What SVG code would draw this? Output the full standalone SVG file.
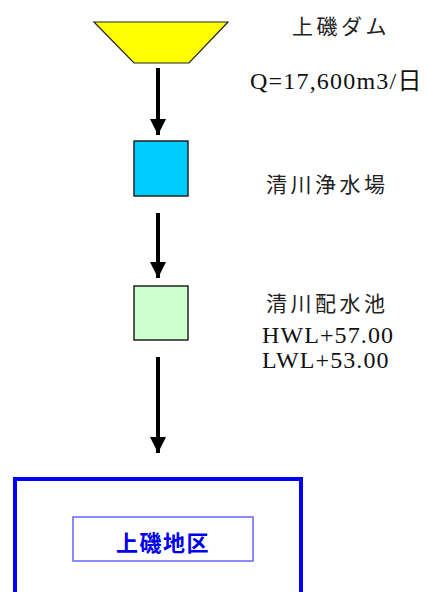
<svg xmlns="http://www.w3.org/2000/svg" width="427" height="592" viewBox="0 0 427 592">
<style>
.lbl{font-family:"Liberation Serif","Noto Sans CJK JP",serif;font-size:21px;fill:#222;}
.num{font-family:"Liberation Serif","Noto Sans CJK JP",serif;font-size:24px;fill:#111;}
.conn{stroke:#000;stroke-width:4;fill:none;marker-end:url(#arr);}
.box{stroke:#222;stroke-width:1.5;}
</style>
<defs>
<marker id="arr" markerUnits="userSpaceOnUse" markerWidth="16" markerHeight="16" refX="16" refY="8" orient="auto">
<path d="M0,0 L16,8 L0,16 Z" fill="#000"/>
</marker>
</defs>
<rect width="427" height="592" fill="#fff"/>
<g id="connectors">
<line class="conn" x1="158" y1="68" x2="158" y2="135"/>
<line class="conn" x1="158" y1="213" x2="158" y2="278"/>
<line class="conn" x1="158" y1="357" x2="158" y2="453"/>
</g>
<g id="dam">
<polygon points="94,22 228,22 189,63 134,63" fill="#ffff00" stroke="#222" stroke-width="1.2"/>
<text class="lbl" x="292" y="34" style="letter-spacing:3.5px">上磯ダム</text>
<text class="num" x="250" y="89" style="letter-spacing:1.2px">Q=17,600m3/日</text>
</g>
<g id="plant">
<rect class="box" x="134" y="141" width="54" height="55" fill="#00ccff"/>
<text class="lbl" x="266" y="192" style="letter-spacing:3.5px">清川浄水場</text>
</g>
<g id="reservoir">
<rect class="box" x="134" y="286" width="54" height="54" fill="#ccffcc"/>
<text class="lbl" x="266" y="311" style="letter-spacing:3.5px">清川配水池</text>
<text class="num" x="262" y="343" style="letter-spacing:1.1px">HWL+57.00</text>
<text class="num" x="262" y="368" style="letter-spacing:1.1px">LWL+53.00</text>
</g>
<g id="district">
<rect x="15" y="479" width="286" height="200" fill="none" stroke="#0000ff" stroke-width="4"/>
<rect x="73" y="517" width="180" height="44" fill="#fff" stroke="#6666ff" stroke-width="1.5"/>
<text x="116" y="551" style="font-family:'Noto Sans CJK JP',sans-serif;font-size:22px;font-weight:bold;fill:#0000ee;letter-spacing:1.5px">上磯地区</text>
</g>
</svg>
